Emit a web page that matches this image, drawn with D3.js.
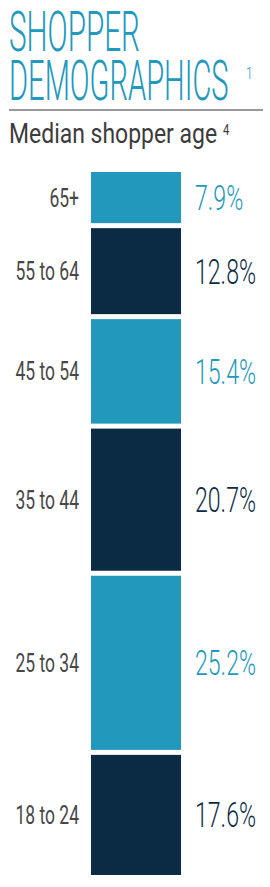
<!DOCTYPE html>
<html>
<head>
<meta charset="utf-8">
<script src="https://cdn.jsdelivr.net/npm/d3@7"></script>
<style>
  body { margin: 0; background: #fff; }
  text { font-family: Roboto, "Open Sans", sans-serif; }
</style>
</head>
<body>
<div id="chart"></div>
<script>
// chart size
var width = 270,
    height = 887

// data, top segment first
var ageGroups = ["65+", "55 to 64", "45 to 54", "35 to 44", "25 to 34", "18 to 24"]
var shares = [7.9, 12.8, 15.4, 20.7, 25.2, 17.6]
var valueLabels = ["7.9%", "12.8%", "15.4%", "20.7%", "25.2%", "17.6%"]

var lightBlue = "#2398bd",
    navy = "#0b2b45",
    gap = 5

var svg = d3.select("#chart")
  .append("svg")
  .attr("width", width)
  .attr("height", height)

// squeeze text horizontally to get the condensed look
function condensed(sel, x, y, sx) {
  sel.attr("x", 0).attr("y", 0)
    .attr("transform", "translate(" + x + "," + y + ") scale(" + sx + ",1)")
  return sel
}

// title
svg.append("text").text("SHOPPER")
  .call(condensed, 9, 51, 0.53)
  .style("font-size", "56px").style("font-weight", 300)
  .attr("fill", lightBlue)
svg.append("text").text("DEMOGRAPHICS")
  .call(condensed, 9, 100, 0.52)
  .style("font-size", "56px").style("font-weight", 300)
  .attr("fill", lightBlue)
svg.append("text").text("1")
  .call(condensed, 246, 79, 0.7)
  .style("font-size", "17px").style("font-weight", 300)
  .attr("fill", lightBlue)

svg.append("line")
  .attr("x1", 9).attr("x2", 263)
  .attr("y1", 110).attr("y2", 110)
  .attr("stroke", "#9a9a9a")
  .attr("stroke-width", 2)

svg.append("text").text("Median shopper age")
  .call(condensed, 9, 143, 0.82)
  .style("font-size", "28px").style("font-weight", 400)
  .attr("fill", "#3b3b3b")
svg.append("text").text("4")
  .call(condensed, 223, 135, 0.75)
  .style("font-size", "15px")
  .attr("fill", "#3b3b3b")

// stacked column
var total = d3.sum(shares)
var y = d3.scaleLinear().domain([0, total]).range([172, 880])
var x = d3.scaleLinear().domain([0, 1]).range([91, 181])

var starts = [0].concat(Array.from(d3.cumsum(shares)).slice(0, -1))
var data = ageGroups.map(function(g, i) {
  return {group: g, value: shares[i], label: valueLabels[i], start: starts[i], i: i}
})

function segColor(d) { return d.i % 2 === 0 ? lightBlue : navy }

svg.selectAll("rect.seg")
  .data(data)
  .enter()
  .append("rect")
  .attr("class", "seg")
  .attr("x", x(0))
  .attr("width", x(1) - x(0))
  .attr("y", function(d) { return y(d.start) })
  .attr("height", function(d) { return y(d.start + d.value) - y(d.start) - gap })
  .attr("fill", segColor)

function mid(d) { return (y(d.start) + y(d.start + d.value) - gap) / 2 }

// age labels on the left
svg.selectAll("text.age")
  .data(data)
  .enter()
  .append("text")
  .attr("class", "age")
  .text(function(d) { return d.group })
  .each(function(d) { d3.select(this).call(condensed, 79, mid(d) + 9, 0.7) })
  .attr("text-anchor", "end")
  .style("font-size", "25px")
  .attr("fill", "#474747")

// percentages on the right
svg.selectAll("text.val")
  .data(data)
  .enter()
  .append("text")
  .attr("class", "val")
  .text(function(d) { return d.label })
  .each(function(d) { d3.select(this).call(condensed, 195, mid(d) + 12.5, 0.66) })
  .style("font-size", "35px").style("font-weight", 300)
  .attr("fill", segColor)
</script>
</body>
</html>
